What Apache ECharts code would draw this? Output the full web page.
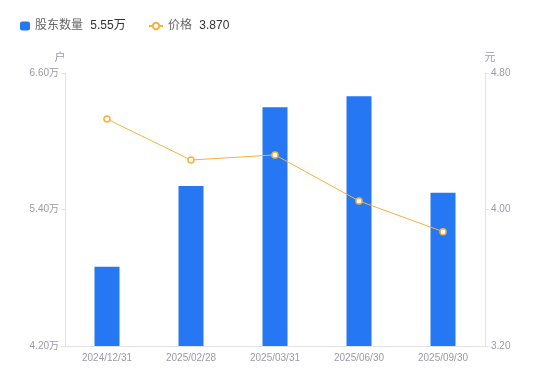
<!DOCTYPE html>
<html><head><meta charset="utf-8">
<script src="https://cdn.jsdelivr.net/npm/echarts@6/dist/echarts.min.js"></script>
<style>html,body{margin:0;padding:0;background:#fff}#c{width:550px;height:381px}</style>
</head><body><div id="c"></div>
<script>
const categories = ['2024/12/31','2025/02/28','2025/03/31','2025/06/30','2025/09/30'];
const holders = [48970, 56070, 62980, 63950, 55480];
const prices = [4.53, 4.29, 4.32, 4.05, 3.87];
const holderLegendValue = '5.55万';
const priceLegendValue = '3.870';

const chart = echarts.init(document.getElementById('c'));
const font = '"Liberation Sans","Noto Sans CJK SC",sans-serif';
const legendText = {fontSize: 12, color: '#666', fontFamily: font,
  rich: {v: {fontSize: 12, color: '#333', fontFamily: font, padding: [0,0,0,4]}}};
chart.setOption({
  animation: false,
  textStyle: {fontFamily: font},
  legend: [{
    left: 15, top: 15, itemWidth: 10, itemHeight: 9,
    textStyle: legendText,
    formatter: n => n + ' {v|' + holderLegendValue + '}',
    data: [{name: '股东数量', icon: 'roundRect'}]
  }, {
    left: 143, top: 15, itemWidth: 14, itemHeight: 8,
    textStyle: legendText,
    formatter: n => n + ' {v|' + priceLegendValue + '}',
    data: [{name: '价格'}]
  }],
  grid: {left: 65, right: 65, top: 73, bottom: 35},
  xAxis: {
    type: 'category', data: categories,
    axisLine: {lineStyle: {color: '#e3e3e3'}},
    axisTick: {show: false},
    axisLabel: {color: '#9a9aa6', fontSize: 10, margin: 7}
  },
  yAxis: [{
    type: 'value', min: 42000, max: 66000, interval: 12000, name: '户',
    nameTextStyle: {color: '#9a9aa6', fontSize: 11, padding: [0, 0, 0, -10]},
    nameGap: 10,
    axisLine: {show: true, lineStyle: {color: '#e3e3e3'}},
    axisTick: {show: true, length: 4, lineStyle: {color: '#e3e3e3'}},
    splitLine: {show: false},
    axisLabel: {color: '#9a9aa6', fontSize: 10, margin: 6,
      formatter: v => (v / 10000).toFixed(2) + '万'}
  }, {
    type: 'value', min: 3.2, max: 4.8, interval: 0.8, name: '元',
    nameTextStyle: {color: '#9a9aa6', fontSize: 11, padding: [0, 0, 0, 10]},
    nameGap: 10,
    axisLine: {show: true, lineStyle: {color: '#e3e3e3'}},
    axisTick: {show: true, length: 4, lineStyle: {color: '#e3e3e3'}},
    splitLine: {show: false},
    axisLabel: {color: '#9a9aa6', fontSize: 10, margin: 6, formatter: v => v.toFixed(2)}
  }],
  series: [{
    name: '股东数量', type: 'bar', data: holders, barWidth: 25,
    itemStyle: {color: '#2577f4'}
  }, {
    name: '价格', type: 'line', yAxisIndex: 1, data: prices,
    symbol: 'circle', symbolSize: 6,
    itemStyle: {color: '#fff', borderColor: '#f7b13c', borderWidth: 1.5},
    lineStyle: {color: '#f7b13c', width: 1}
  }]
});
</script></body></html>
